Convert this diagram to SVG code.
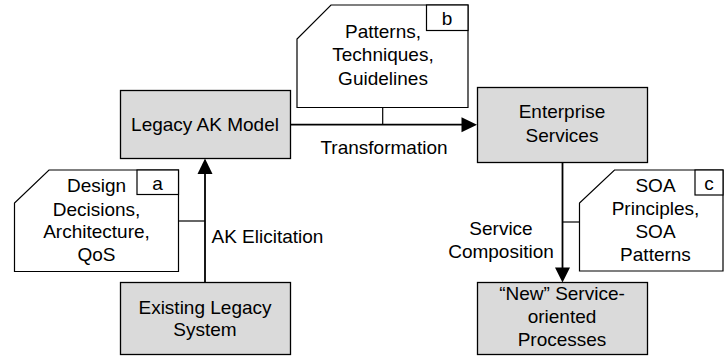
<svg xmlns="http://www.w3.org/2000/svg" width="725" height="356" viewBox="0 0 725 356">
<defs>
<style>
.box{fill:#dadada;stroke:#000;stroke-width:1.3}
.note{fill:#fff;stroke:#000;stroke-width:1.2}
.conn{fill:none;stroke:#000;stroke-width:1.8}
.thin{fill:none;stroke:#000;stroke-width:1.2}
text{font-family:"Liberation Sans",Arial,sans-serif;font-size:19px;fill:#000}
.c{text-anchor:middle}
</style>
</defs>
<rect width="725" height="356" fill="#fff"/>
<g id="connectors">
<line class="conn" x1="205" y1="282.5" x2="205" y2="172"/>
<polygon points="205,158.5 197.5,174 212.5,174" fill="#000"/>
<line class="conn" x1="290.5" y1="124.7" x2="463" y2="124.7"/>
<polygon points="477,124.7 461.5,117.2 461.5,132.2" fill="#000"/>
<line class="conn" x1="562.5" y1="162.5" x2="562.5" y2="269"/>
<polygon points="562.5,282.5 555,267.5 570,267.5" fill="#000"/>
<line class="thin" x1="178.5" y1="221" x2="205" y2="221"/>
<line class="thin" x1="382.7" y1="107.5" x2="382.7" y2="124.7"/>
<line class="thin" x1="562.5" y1="222" x2="579.5" y2="222"/>
<text x="384" y="153.5" class="c">Transformation</text>
<text x="211.5" y="243">AK Elicitation</text>
<text x="501" y="235" class="c">Service</text>
<text x="501" y="257.5" class="c">Composition</text>
</g>
<g id="legacy-ak-model">
<rect class="box" x="120.5" y="90.5" width="170" height="68"/>
<text x="205" y="130.5" class="c">Legacy AK Model</text>
</g>
<g id="existing-legacy-system">
<rect class="box" x="120.5" y="282.5" width="170" height="72"/>
<text x="205" y="313.5" class="c">Existing Legacy</text>
<text x="205" y="336" class="c">System</text>
</g>
<g id="enterprise-services">
<rect class="box" x="477.5" y="87.5" width="170" height="75"/>
<text x="562" y="118" class="c">Enterprise</text>
<text x="562" y="141.5" class="c">Services</text>
</g>
<g id="new-processes">
<rect class="box" x="477.5" y="282.5" width="170" height="72"/>
<text x="562" y="300" class="c">“New” Service-</text>
<text x="562" y="323" class="c">oriented</text>
<text x="562" y="346" class="c">Processes</text>
</g>
<g id="note-a">
<path class="note" d="M49,170 H178.5 V271.5 H14.5 V203 Z"/>
<rect class="note" x="137" y="170" width="41.5" height="24.5"/>
<text x="157.5" y="190" class="c">a</text>
<text x="96.5" y="192" class="c">Design</text>
<text x="96.5" y="215.5" class="c">Decisions,</text>
<text x="96.5" y="238" class="c">Architecture,</text>
<text x="96.5" y="260.5" class="c">QoS</text>
</g>
<g id="note-b">
<path class="note" d="M331,5 H468 V107.5 H297 V39 Z"/>
<rect class="note" x="426.5" y="5" width="41.5" height="25.5"/>
<text x="447" y="25" class="c">b</text>
<text x="383" y="38" class="c">Patterns,</text>
<text x="383" y="61" class="c">Techniques,</text>
<text x="383" y="84.5" class="c">Guidelines</text>
</g>
<g id="note-c">
<path class="note" d="M614.5,170 H723 V271 H579.5 V203 Z"/>
<rect class="note" x="695" y="170" width="28" height="25"/>
<text x="709" y="190" class="c">c</text>
<text x="655.5" y="192" class="c">SOA</text>
<text x="655.5" y="215" class="c">Principles,</text>
<text x="655.5" y="238" class="c">SOA</text>
<text x="655.5" y="261" class="c">Patterns</text>
</g>
</svg>
